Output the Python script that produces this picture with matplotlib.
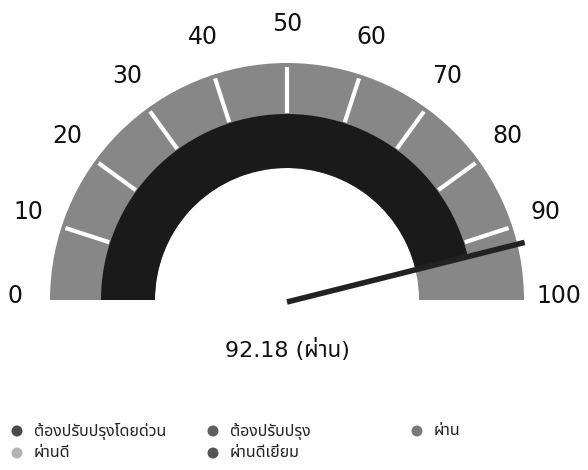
import matplotlib
matplotlib.use("Agg")
import matplotlib.pyplot as plt
from matplotlib.patches import Wedge, Circle
from matplotlib import font_manager as fm
import numpy as np

# ---------------- data ----------------
tick_values = [0, 10, 20, 30, 40, 50, 60, 70, 80, 90, 100]
tick_labels = ["0", "10", "20", "30", "40", "50", "60", "70", "80", "90", "100"]
gauge_value = 92.18
gauge_status = "ผ่าน"
legend_names = ["ต้องปรับปรุงโดยด่วน", "ต้องปรับปรุง", "ผ่าน", "ผ่านดี", "ผ่านดีเยี่ยม"]
legend_colors = ["#4a4a4a", "#5e5e5e", "#7a7a7a", "#b4b4b4", "#555555"]


def find_thai_font():
    try:
        from fontTools.ttLib import TTFont
    except Exception:
        return None
    found = {}
    for f in fm.fontManager.ttflist:
        try:
            tt = TTFont(f.fname, fontNumber=0, lazy=True)
            cmap = tt.getBestCmap()
            if cmap and 0x0E1C in cmap and 0x0E48 in cmap and 0x0E32 in cmap:
                found.setdefault(f.name, f.fname)
        except Exception:
            pass
    prefs = ["Noto Sans Thai", "Noto Sans Thai Looped", "Kanit", "Prompt", "Sarabun",
             "Loma", "Garuda", "Waree", "Umpush", "Tlwg Typo", "Noto Sans", "FreeSans",
             "Open Sans", "Roboto", "Lato", "Inter", "DejaVu Sans"]
    for p in prefs:
        if p in found:
            return p
    if found:
        return sorted(found)[0]
    return None


thai = find_thai_font()
fam = [thai, "DejaVu Sans"] if thai else ["DejaVu Sans"]
num_fam = ["DejaVu Sans", thai] if thai else ["DejaVu Sans"]
plt.rcParams["font.family"] = fam

W, H = 588, 470
fig = plt.figure(figsize=(W / 100, H / 100), dpi=100)
ax = fig.add_axes([0, 0, 1, 1])
ax.set_xlim(0, W)
ax.set_ylim(0, H)
ax.set_aspect("equal")
ax.axis("off")

cx, cy = 287, H - 300
r_out, r_mid, r_in = 237, 186, 132


def ang(v):
    return 180 - v * 1.8


band_gray = "#878787"
dark = "#1a1a1a"

# full gray band (outer scale + inner remainder)
ax.add_patch(Wedge((cx, cy), r_out, 0, 180, width=r_out - r_in,
                   facecolor=band_gray, edgecolor="none"))
# inner progress band
ax.add_patch(Wedge((cx, cy), r_mid, ang(gauge_value), 180, width=r_mid - r_in,
                   facecolor=dark, edgecolor="none"))

# ticks and labels
for v, lab in zip(tick_values, tick_labels):
    a = np.deg2rad(ang(v))
    if 0 < v < 100:
        ax.plot([cx + (r_mid + 1) * np.cos(a), cx + (r_out - 4) * np.cos(a)],
                [cy + (r_mid + 1) * np.sin(a), cy + (r_out - 4) * np.sin(a)],
                color="white", lw=3, solid_capstyle="butt")
    rl = 272
    ax.text(cx + rl * np.cos(a), cy + 4 + rl * np.sin(a), lab, ha="center", va="center",
            fontsize=17, color="#111111", family=num_fam)

# needle
a = np.deg2rad(ang(gauge_value))
ax.plot([cx, cx + 245 * np.cos(a)], [cy - 2, cy - 2 + 245 * np.sin(a)],
        color="#222222", lw=4, solid_capstyle="butt")

# value text
ax.text(cx, H - 349, f"{gauge_value:.2f} ({gauge_status})", ha="center", va="center",
        fontsize=16, color="#111111", family=num_fam)

# legend
col_x = [17, 213, 417]
row_y = [H - 431, H - 453]
for i, (name, col) in enumerate(zip(legend_names, legend_colors)):
    r, c = divmod(i, 3)
    x, y = col_x[c], row_y[r]
    ax.add_patch(Circle((x, y), 5.5, facecolor=col, edgecolor="none"))
    ax.text(x + 17, y, name, ha="left", va="center", fontsize=11.5, color="#222222")

fig.savefig("out.png", dpi=100, facecolor="white")
